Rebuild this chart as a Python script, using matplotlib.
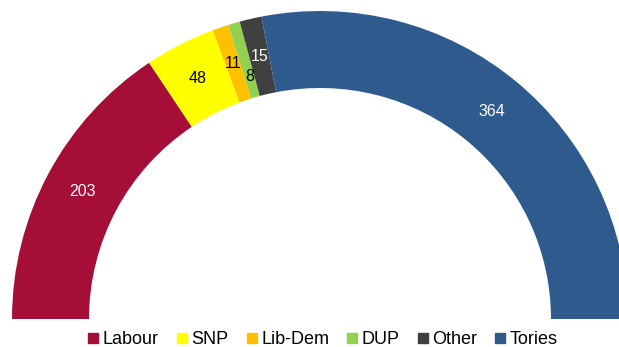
import matplotlib
matplotlib.use("Agg")
import matplotlib.pyplot as plt
from matplotlib.lines import Line2D
import numpy as np

parties = ["Labour", "SNP", "Lib-Dem", "DUP", "Other", "Tories"]
seats = [203, 48, 11, 8, 15, 364]
colors = ["#A50E36", "#FFFF00", "#FFC000", "#92D050", "#404040", "#2F5A8D"]
label_colors = ["white", "black", "black", "black", "white", "white"]

plt.rcParams['font.family'] = ['Liberation Sans', 'DejaVu Sans']

W, H = 619, 347
fig = plt.figure(figsize=(W / 100, H / 100), dpi=100)
ax = fig.add_axes([0, 0, 1, 1])

cx, cy = 320, H - 319
r_out = 308
ring = 77
total = sum(seats)

# semicircle: visible parties + invisible bottom half
vals = seats + [total]
wedges, _ = ax.pie(vals, startangle=180, counterclock=False, radius=r_out,
                   center=(cx, cy), colors=colors + ["none"],
                   wedgeprops=dict(width=ring, linewidth=0))
ax.set_xlim(0, W)
ax.set_ylim(0, H)
ax.set_aspect('equal')
ax.axis('off')

cum = np.cumsum([0] + seats)
r_mid = r_out - ring / 2
for i, (v, c) in enumerate(zip(seats, label_colors)):
    mid = (cum[i] + cum[i + 1]) / 2
    ang = np.deg2rad(180 - mid / total * 180)
    r = r_mid - 17 if parties[i] == "DUP" else r_mid
    ax.text(cx + r * np.cos(ang), cy + r * np.sin(ang), str(v),
            ha='center', va='center', fontsize=11.5, color=c)

handles = [Line2D([], [], marker='s', linestyle='none', markersize=7,
                  markerfacecolor=col, markeredgecolor=col) for col in colors]
fig.legend(handles, parties, loc='center', bbox_to_anchor=(323 / W, (H - 340) / H),
           ncol=6, frameon=False, fontsize=13, handlelength=0.55,
           handletextpad=0.25, columnspacing=1.0, borderaxespad=0, borderpad=0)

fig.savefig("out.png", dpi=100)
